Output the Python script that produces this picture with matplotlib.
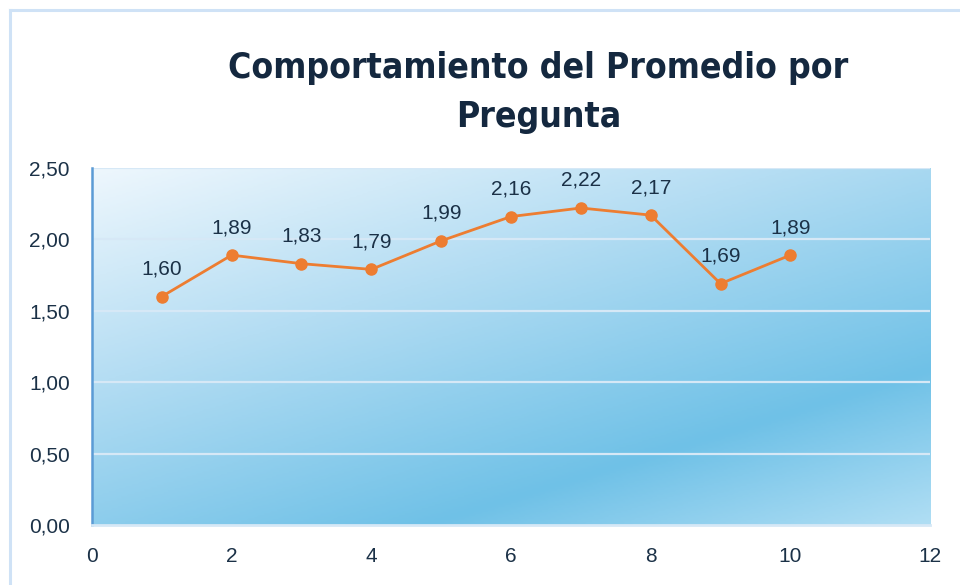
import numpy as np
import matplotlib.pyplot as plt
from matplotlib.colors import LinearSegmentedColormap
from matplotlib.ticker import FuncFormatter, MultipleLocator
from matplotlib.lines import Line2D

# datos
preguntas = [1, 2, 3, 4, 5, 6, 7, 8, 9, 10]
promedios = [1.60, 1.89, 1.83, 1.79, 1.99, 2.16, 2.22, 2.17, 1.69, 1.89]
titulo = "Comportamiento del Promedio por\nPregunta"

txt_color = "#1b3147"

fig = plt.figure(figsize=(9.6, 5.85), dpi=100)
ax = fig.add_axes([0.0958, 0.1026, 0.8730, 0.6102])

# fondo degradado tipo excel
cmap = LinearSegmentedColormap.from_list(
    "fondo", [(0.0, "#eef7fd"), (0.35, "#b4ddf3"), (0.75, "#6fc1e7"), (1.0, "#b0def4")])
ny, nx = 200, 400
xx, yy = np.meshgrid(np.linspace(0, 1, nx), np.linspace(1, 0, ny))
grad = (xx * 0.42 + (1 - yy) * 0.58)
ax.imshow(grad, extent=[0, 12, 0, 2.5], aspect="auto", cmap=cmap,
          vmin=0, vmax=1, zorder=0, interpolation="bilinear")

ax.set_xlim(0, 12)
ax.set_ylim(0, 2.5)
ax.xaxis.set_major_locator(MultipleLocator(2))
ax.yaxis.set_major_locator(MultipleLocator(0.5))
ax.yaxis.set_major_formatter(FuncFormatter(lambda v, p: f"{v:.2f}".replace(".", ",")))

for v in [0.5, 1.0, 1.5, 2.0, 2.5]:
    ax.axhline(v, color="#d6e8f6", lw=1.6, zorder=1)

ax.plot(preguntas, promedios, color="#ed7d31", lw=2, marker="o",
        markersize=8, zorder=3)
for x, y in zip(preguntas, promedios):
    ax.annotate(f"{y:.2f}".replace(".", ","), (x, y), xytext=(0, 13),
                textcoords="offset points", ha="center", va="bottom",
                fontsize=15, color=txt_color, family="Liberation Sans")

for s in ["top", "right"]:
    ax.spines[s].set_visible(False)
ax.spines["left"].set_color("#5b9bd5")
ax.spines["left"].set_linewidth(1.8)
ax.spines["bottom"].set_color("#d6e8f6")
ax.spines["bottom"].set_linewidth(2)
ax.tick_params(length=0, labelsize=15, labelcolor=txt_color)
ax.tick_params(axis="y", pad=16)
ax.tick_params(axis="x", pad=16)
for lab in ax.get_xticklabels() + ax.get_yticklabels():
    lab.set_family("Liberation Sans")

fig.text(0.561, 0.842, titulo, ha="center", va="center", fontsize=25.5,
         fontweight="bold", color="#14283f", family="DejaVu Sans",
         fontstretch="condensed", linespacing=1.55)

# marco del grafico
fig.add_artist(Line2D([10/960, 10/960], [0, 1 - 10/585], color="#cfe2f6", lw=2.2))
fig.add_artist(Line2D([10/960, 1], [1 - 10/585, 1 - 10/585], color="#cfe2f6", lw=2.2))

fig.savefig("out.png", dpi=100)
